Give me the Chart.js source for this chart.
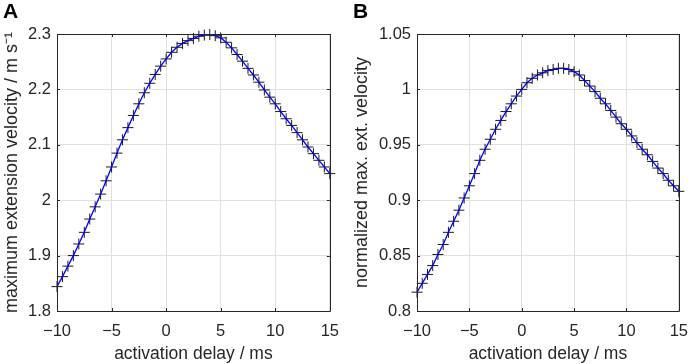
<!DOCTYPE html>
<html>
<head>
<meta charset="utf-8">
<script src="https://cdn.jsdelivr.net/npm/chart.js@4.4.1/dist/chart.umd.min.js"></script>
<style>
  html, body { margin: 0; padding: 0; background: #fff; }
  #wrap { position: relative; width: 699px; height: 364px; font-family: "Liberation Sans", Arial, sans-serif; }
  canvas { position: absolute; top: 0; }
  .panel { position: absolute; top: -1px; font-weight: bold; font-size: 21px; color: #000; }
</style>
</head>
<body>
<div id="wrap">
  <canvas id="chartA" width="350" height="364" style="left:0"></canvas>
  <canvas id="chartB" width="349" height="364" style="left:350px"></canvas>
  <div class="panel" style="left:3px">A</div>
  <div class="panel" style="left:353px">B</div>
</div>
<script>
// activation delay (ms), sampled every 0.5 ms
const delays = [-10, -9.5, -9, -8.5, -8, -7.5, -7, -6.5, -6, -5.5, -5, -4.5, -4, -3.5, -3, -2.5, -2, -1.5, -1, -0.5,
  0, 0.5, 1, 1.5, 2, 2.5, 3, 3.5, 4, 4.5, 5, 5.5, 6, 6.5, 7, 7.5, 8, 8.5, 9, 9.5, 10,
  10.5, 11, 11.5, 12, 12.5, 13, 13.5, 14, 14.5, 15];

// panel A: maximum extension velocity (m/s)
const maxVelocity = [1.844, 1.862, 1.881, 1.900, 1.921, 1.942, 1.966, 1.988, 2.011, 2.035, 2.060, 2.085, 2.109, 2.131,
  2.153, 2.174, 2.194, 2.211, 2.227, 2.242, 2.255, 2.267, 2.276, 2.283, 2.288, 2.292, 2.296, 2.298, 2.299, 2.297,
  2.293, 2.285, 2.275, 2.263, 2.251, 2.238, 2.226, 2.213, 2.199, 2.186, 2.174, 2.160, 2.147, 2.135, 2.122, 2.109,
  2.096, 2.084, 2.072, 2.060, 2.048];

// panel B: normalized max. extension velocity
const normVelocity = [0.817, 0.825, 0.833, 0.841, 0.851, 0.860, 0.871, 0.881, 0.891, 0.902, 0.913, 0.924, 0.936, 0.946,
  0.955, 0.964, 0.972, 0.980, 0.987, 0.994, 1.000, 1.006, 1.010, 1.013, 1.015, 1.017, 1.018, 1.019, 1.019, 1.018,
  1.016, 1.013, 1.008, 1.003, 0.998, 0.992, 0.987, 0.981, 0.975, 0.969, 0.964, 0.958, 0.952, 0.946, 0.941, 0.935,
  0.929, 0.924, 0.918, 0.913, 0.908];

const xTicks = [-10, -5, 0, 5, 10, 15];
const yTicksA = [1.8, 1.9, 2, 2.1, 2.2, 2.3];
const yTicksB = [0.8, 0.85, 0.9, 0.95, 1, 1.05];

const FONT = '"Liberation Sans", Arial, sans-serif';
const TEXT = '#262626';

// axes box and inward tick marks, like the original figure
const boxPlugin = {
  id: 'box',
  afterDraw(chart) {
    const { ctx, chartArea: a, scales } = chart;
    const x = scales.x, y = scales.y;
    ctx.save();
    ctx.strokeStyle = '#262626';
    ctx.lineWidth = 1;
    ctx.beginPath();
    ctx.rect(Math.round(a.left) + 0.5, Math.round(a.top) + 0.5,
      Math.round(a.right) - Math.round(a.left), Math.round(a.bottom) - Math.round(a.top));
    x.ticks.forEach(t => {
      const px = Math.round(x.getPixelForValue(t.value)) + 0.5;
      ctx.moveTo(px, a.bottom); ctx.lineTo(px, a.bottom - 3);
      ctx.moveTo(px, a.top); ctx.lineTo(px, a.top + 3);
    });
    y.ticks.forEach(t => {
      const py = Math.round(y.getPixelForValue(t.value)) + 0.5;
      ctx.moveTo(a.left, py); ctx.lineTo(a.left + 3, py);
      ctx.moveTo(a.right, py); ctx.lineTo(a.right - 3, py);
    });
    ctx.stroke();
    ctx.restore();
  }
};

function fmt(v) {
  return String(Number(v.toFixed(2))).replace('-', '\u2212');
}

function makeChart(id, values, yTicks, yTitle, yWidth, rightPad) {
  const pts = delays.map((d, i) => ({ x: d, y: values[i] }));
  return new Chart(document.getElementById(id), {
    type: 'scatter',
    data: {
      datasets: [
        {
          data: pts,
          showLine: true,
          borderColor: '#0000ff',
          borderWidth: 1.3,
          pointRadius: 0,
          order: 0
        },
        {
          data: pts,
          showLine: false,
          pointStyle: 'cross',
          pointRadius: 5.5,
          borderColor: '#1a1a1a',
          borderWidth: 1,
          clip: false,
          order: 1
        }
      ]
    },
    options: {
      responsive: false,
      devicePixelRatio: 1,
      animation: false,
      events: [],
      layout: { padding: { top: 34, right: rightPad, bottom: 0, left: 0 } },
      plugins: { legend: { display: false }, tooltip: { enabled: false } },
      scales: {
        x: {
          type: 'linear',
          min: xTicks[0],
          max: xTicks[xTicks.length - 1],
          afterBuildTicks: s => { s.ticks = xTicks.map(v => ({ value: v })); },
          afterFit: s => { s.height = 53; },
          grid: { color: '#e0e0e0', drawTicks: false },
          border: { display: false },
          ticks: { color: TEXT, font: { family: FONT, size: 16.5 }, padding: 11, callback: fmt },
          title: { display: true, text: 'activation delay / ms', color: TEXT, font: { family: FONT, size: 17.5 }, padding: { top: 1, bottom: -1 } }
        },
        y: {
          min: yTicks[0],
          max: yTicks[yTicks.length - 1],
          afterBuildTicks: s => { s.ticks = yTicks.map(v => ({ value: v })); },
          afterFit: s => { s.width = yWidth; },
          grid: { color: '#e0e0e0', drawTicks: false },
          border: { display: false },
          ticks: { color: TEXT, font: { family: FONT, size: 16.5 }, padding: 6, callback: fmt },
          title: { display: true, text: yTitle, color: TEXT, font: { family: FONT, size: 18 }, padding: { top: 1, bottom: 0 } }
        }
      }
    },
    plugins: [boxPlugin]
  });
}

makeChart('chartA', maxVelocity, yTicksA, 'maximum extension velocity / m s\u207B\u00B9', 57, 19);
makeChart('chartB', normVelocity, yTicksB, 'normalized max. ext. velocity', 67, 9);
</script>
</body>
</html>
